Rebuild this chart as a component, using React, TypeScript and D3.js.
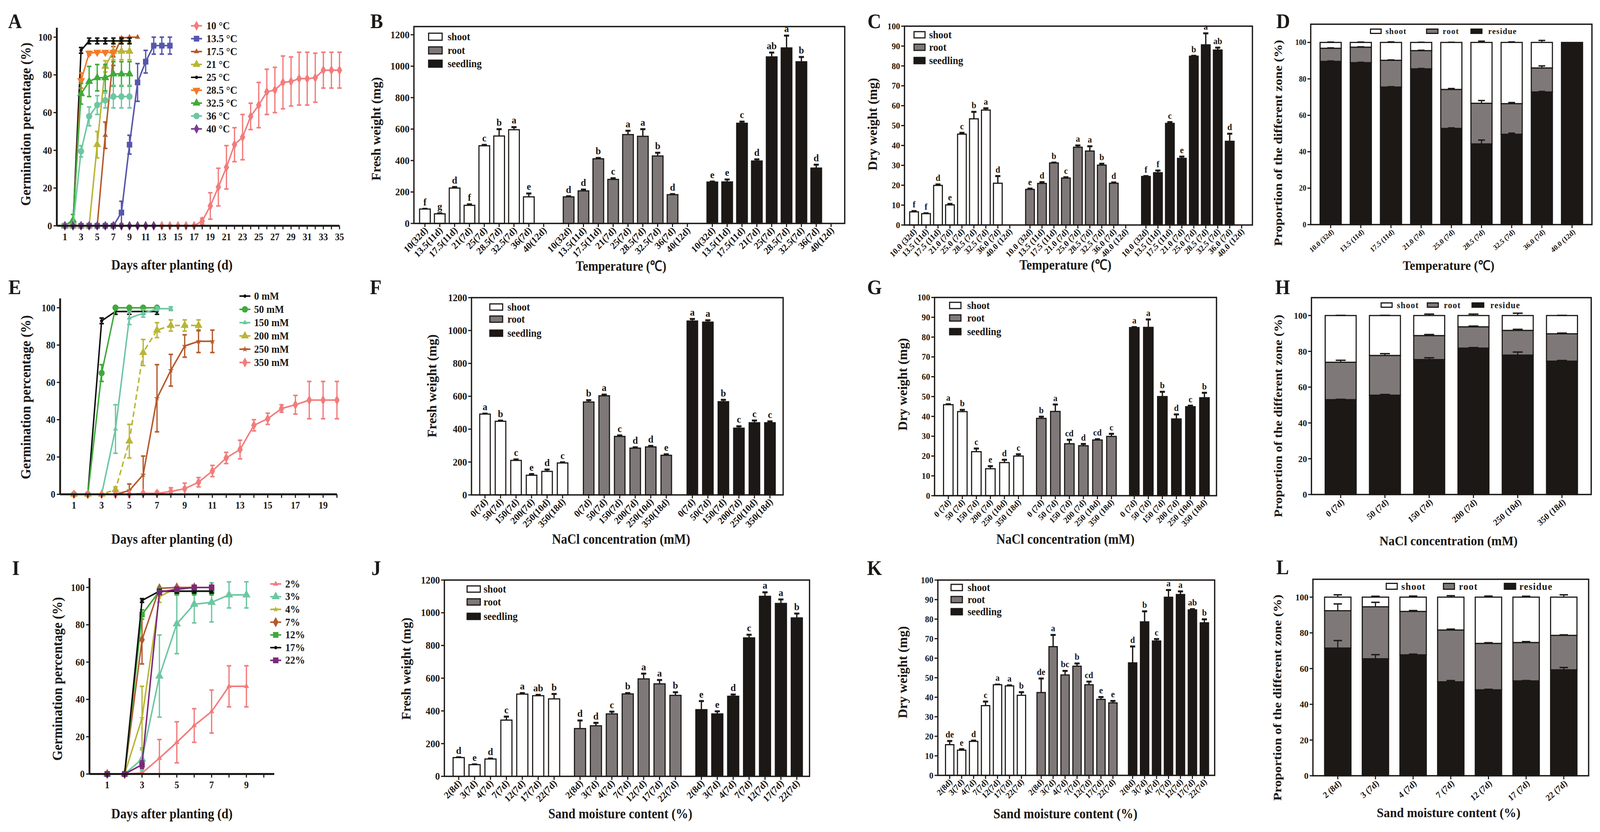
import React from 'react';
import * as d3 from 'd3';

const SERIF = '"Liberation Serif", "Times New Roman", serif';
const INK = '#1b1816';
const GREY = '#7f7878';

// ---------- A: germination under temperature (index = day - 1) ----------
const tempNames = ['10 °C', '13.5 °C', '17.5 °C', '21 °C', '25 °C', '28.5 °C', '32.5 °C', '36 °C', '40 °C'];
const germ10 = [0, 0, 0, 0, 0, 0, 0, 0, 0, 0, 0, 0, 0, 0, 0, 0, 0, 2.5, 10.5, 20.5, 31, 43, 47, 58, 64, 71, 72, 76, 76.5, 78, 78, 78.5, 82.5, 82.5, 82.5];
const err10 = [0, 0, 0, 0, 0, 0, 0, 0, 0, 0, 0, 0, 0, 0, 0, 0, 0, 1.5, 7, 10, 11.5, 9, 12, 7, 12, 12, 12, 14, 13, 14, 14, 13, 9.5, 9.5, 9.5];
const germ13_5 = [0, 0, 0, 0, 0, 0, 0, 7, 43, 76, 87, 95.5, 95.5, 95.5];
const err13_5 = [0, 0, 0, 0, 0, 0, 0, 6, 5, 10, 6, 4.5, 4.5, 4.5];
const germ17_5 = [0, 0, 0, 0, 0, 48, 90, 99.5, 100, 100];
const err17_5 = [0, 0, 0, 0, 0, 7, 5, 0.5, 0, 0];
const germ21 = [0, 0, 0, 0, 43, 84.5, 92.5, 92.5, 92.5];
const err21 = [0, 0, 0, 0, 7, 3, 4.5, 4.5, 4.5];
const germ25 = [0, 0, 93, 98, 98, 98, 98, 98, 98];
const err25 = [0, 0, 1.5, 1.5, 1.5, 1.5, 1.5, 1.5, 1.5];
const germ28_5 = [0, 0, 77, 91.5, 92, 92, 92];
const err28_5 = [0, 0, 4, 1, 0.5, 0.5, 0.5];
const germ32_5 = [0, 3, 70, 76.5, 78.5, 78.5, 80.5, 80.5, 80.5];
const err32_5 = [0, 3, 5.5, 8, 7, 7, 6.5, 6.5, 6.5];
const germ36 = [0, 0, 39.5, 58, 64, 66.5, 68.5, 68.5, 68.5];
const err36 = [0, 0, 3, 5, 5, 4, 6, 6, 6];
const germ40 = [0, 0, 0, 0, 0, 0, 0, 0, 0, 0, 0, 0];
const err40 = [0, 0, 0, 0, 0, 0, 0, 0, 0, 0, 0, 0];

// ---------- E: germination under NaCl ----------
const saltNames = ['0 mM', '50 mM', '150 mM', '200 mM', '250 mM', '350 mM'];
const salt0 = [0, 0, 93, 98, 98, 98, 98];
const salt0Err = [0, 0, 1.5, 1.5, 1.5, 1.5, 1.5];
const salt50 = [0, 0, 65, 100, 100, 100, 100];
const salt50Err = [0, 0, 4.5, 0, 0, 0, 0];
const salt150 = [0, 0, 0, 35, 94.5, 97, 99.5, 99.5];
const salt150Err = [0, 0, 0, 13, 3.5, 2, 1, 1];
const salt200 = [0, 0, 0, 2.5, 28.5, 76, 88, 90.5, 90.5, 90.5];
const salt200Err = [0, 0, 0, 1.5, 9, 7, 4, 3, 3, 3];
const salt250 = [0, 0, 0, 0, 2, 10.5, 51.5, 66.5, 79.5, 82, 82];
const salt250Err = [0, 0, 0, 0, 3.5, 10, 18, 8.5, 6, 6, 6];
const salt350 = [0, 0, 0, 0, 0, 0.5, 0.5, 1.5, 3, 6.5, 12.5, 19.5, 24, 37, 40.5, 46, 48, 50.5, 50.5, 50.5];
const salt350Err = [0, 0, 0, 0, 0, 0.5, 1, 2, 3, 2.5, 3, 3, 5, 3, 3, 2, 5, 10, 10, 10];

// ---------- I: germination under sand moisture ----------
const moistNames = ['2%', '3%', '4%', '7%', '12%', '17%', '22%'];
const moist2 = [0, 0, 0.5, 8.5, 17, 26, 33.5, 47, 47];
const moist2Err = [0, 0, 0.5, 10, 11, 9, 11.5, 11, 11];
const moist3 = [0, 0, 8, 52.5, 80.5, 91, 92, 96, 96];
const moist3Err = [0, 0, 6, 22, 16, 10, 10.5, 7, 7];
const moist4 = [0, 0, 30, 95, 100, 100, 100];
const moist4Err = [0, 0, 17, 3, 0, 0, 0];
const moist7 = [0, 0, 72, 99.5, 100, 100, 100];
const moist7Err = [0, 0, 13, 0.5, 0, 0, 0];
const moist12 = [0, 0, 85.5, 98, 98, 98, 98];
const moist12Err = [0, 0, 2.5, 2, 2, 2, 2];
const moist17 = [0, 0, 93, 98, 98, 98, 98];
const moist17Err = [0, 0, 1, 1, 1, 1, 1];
const moist22 = [0, 0, 5, 97.5, 99, 100, 100];
const moist22Err = [0, 0, 2, 1, 0.5, 0, 0];

// ---------- categories ----------
const tempFreshCats = ['10(32d)', '13.5(11d)', '17.5(11d)', '21(7d)', '25(7d)', '28.5(7d)', '32.5(7d)', '36(7d)', '40(12d)'];
const tempDryCats = ['10.0 (32d)', '13.5 (11d)', '17.5 (11d)', '21.0 (7d)', '25.0 (7d)', '28.5 (7d)', '32.5 (7d)', '36.0 (7d)', '40.0 (12d)'];
const saltFreshCats = ['0(7d)', '50(7d)', '150(7d)', '200(7d)', '250(10d)', '350(18d)'];
const saltDryCats = ['0 (7d)', '50 (7d)', '150 (7d)', '200 (7d)', '250 (10d)', '350 (18d)'];
const sandCats = ['2(8d)', '3(7d)', '4(7d)', '7(7d)', '12(7d)', '17(7d)', '22(7d)'];
const sandPropCats = ['2 (8d)', '3 (7d)', '4 (7d)', '7 (7d)', '12 (7d)', '17 (7d)', '22 (7d)'];
const partNames = ['shoot', 'root', 'seedling'];

// ---------- B: fresh weight, temperature ----------
const fwTempShoot = [91.5, 61, 225, 115, 494, 556, 596, 169, 0];
const fwTempShootErr = [4, 6, 9, 9, 8, 46, 19, 24, 0];
const fwTempShootSig = ['f', 'g', 'd', 'f', 'c', 'b', 'a', 'e', ''];
const fwTempRoot = [169, 207, 411, 280, 565, 554, 429, 183, 0];
const fwTempRootErr = [6, 11, 8, 10, 27, 48, 23, 6, 0];
const fwTempRootSig = ['d', 'd', 'b', 'c', 'a', 'a', 'b', 'd', ''];
const fwTempSeed = [263, 264, 637, 397, 1059, 1116, 1028, 352, 0];
const fwTempSeedErr = [6, 18, 13, 13, 30, 81, 33, 24, 0];
const fwTempSeedSig = ['e', 'e', 'c', 'd', 'ab', 'a', 'b', 'd', ''];

// ---------- C: dry weight, temperature ----------
const dwTempShoot = [6.6, 5.7, 19.9, 10.1, 45.7, 53.4, 57.8, 21.0, 0];
const dwTempShootErr = [0.6, 0.4, 0.7, 0.7, 0.85, 3.7, 1.1, 3.8, 0];
const dwTempShootSig = ['f', 'f', 'd', 'e', 'c', 'b', 'a', 'd', ''];
const dwTempRoot = [17.9, 20.9, 31.2, 23.6, 39.1, 37.2, 30.1, 21.0, 0];
const dwTempRootErr = [0.6, 0.85, 0.4, 0.6, 1.1, 2.6, 0.9, 0.6, 0];
const dwTempRootSig = ['e', 'd', 'b', 'c', 'a', 'a', 'b', 'd', ''];
const dwTempSeed = [24.4, 26.3, 51.1, 33.5, 84.9, 90.6, 88.0, 42.1, 0];
const dwTempSeedErr = [0.4, 1.3, 0.85, 1.1, 0.4, 6, 1.4, 4.0, 0];
const dwTempSeedSig = ['f', 'f', 'c', 'e', 'b', 'a', 'ab', 'd', ''];

// ---------- D: proportion, temperature ----------
const propTempResidue = [89.6, 88.9, 75.5, 85.5, 52.8, 44.3, 49.6, 72.8, 100];
const propTempRoot = [7.2, 8.5, 14.7, 10.0, 21.4, 22.3, 16.8, 13.2, 0];
const propTempShoot = [3.2, 2.6, 9.8, 4.5, 25.8, 33.4, 33.6, 14.0, 0];
const propTempResidueErr = [0.2, 0.2, 0.2, 0.2, 0.3, 2.1, 0.6, 0.3, 0];
const propTempRootErr = [0.2, 0.2, 0.2, 0.2, 0.5, 1.5, 0.6, 1.1, 0];
const propTempShootErr = [0.2, 0.2, 0.3, 0.1, 0.1, 0.7, 0.3, 1.1, 0];

// ---------- F: fresh weight, NaCl ----------
const fwSaltShoot = [491.7, 448, 209.8, 119.6, 143, 194.3];
const fwSaltShootErr = [5.3, 6.4, 8.5, 9.6, 13.8, 6.4];
const fwSaltShootSig = ['a', 'b', 'c', 'e', 'd', 'c'];
const fwSaltRoot = [565, 603, 355.8, 284.6, 292, 241];
const fwSaltRootErr = [13.8, 9.6, 8.5, 7.4, 8.5, 8.5];
const fwSaltRootSig = ['b', 'a', 'c', 'd', 'd', 'e'];
const fwSaltSeed = [1057.7, 1051, 567, 406, 439, 439];
const fwSaltSeedErr = [14.9, 13.8, 13.8, 13.8, 16, 10.6];
const fwSaltSeedSig = ['a', 'a', 'b', 'c', 'c', 'c'];

// ---------- G: dry weight, NaCl ----------
const dwSaltShoot = [45.9, 42.4, 22.2, 13.6, 16.7, 20.0];
const dwSaltShootErr = [0.44, 1.1, 1.8, 1.5, 1.6, 1.1];
const dwSaltShootSig = ['a', 'b', 'c', 'e', 'd', 'c'];
const dwSaltRoot = [39.0, 42.5, 26.2, 25.2, 28.1, 29.9];
const dwSaltRootErr = [1.05, 3.7, 2.2, 1.1, 0.6, 1.5];
const dwSaltRootSig = ['b', 'a', 'cd', 'd', 'cd', 'c'];
const dwSaltSeed = [84.8, 84.9, 50.0, 38.7, 44.9, 49.4];
const dwSaltSeedErr = [0.44, 4.2, 2.6, 2.5, 0.7, 2.7];
const dwSaltSeedSig = ['a', 'a', 'b', 'd', 'c', 'b'];

// ---------- H: proportion, NaCl ----------
const propSaltResidue = [53.0, 55.5, 75.4, 81.8, 77.9, 74.5];
const propSaltRoot = [20.9, 22.2, 13.4, 11.9, 13.8, 15.3];
const propSaltShoot = [26.1, 22.3, 11.2, 6.3, 8.3, 10.2];
const propSaltResidueErr = [0.2, 0.4, 1.0, 0.3, 1.7, 0.4];
const propSaltRootErr = [1.1, 1.0, 0.6, 0.4, 0.6, 0.4];
const propSaltShootErr = [0.1, 0.1, 0.8, 0.8, 1.3, 0.1];

// ---------- J: fresh weight, sand moisture ----------
const fwSandShoot = [114.6, 71.4, 106, 343.8, 502.7, 493, 473.5];
const fwSandShootErr = [4.3, 4.3, 5.4, 23.8, 8.6, 7.6, 32.4];
const fwSandShootSig = ['d', 'e', 'd', 'c', 'a', 'ab', 'b'];
const fwSandRoot = [292, 309, 381.6, 503.8, 595.7, 565.4, 495];
const fwSandRootErr = [51.9, 20.5, 16.2, 7.6, 34.6, 26, 21.6];
const fwSandRootSig = ['d', 'd', 'c', 'b', 'a', 'a', 'b'];
const fwSandSeed = [407.6, 381.6, 489.7, 846.5, 1100.5, 1057, 968.6];
const fwSandSeedErr = [55, 18.4, 13, 21.6, 27, 27, 29];
const fwSandSeedSig = ['e', 'e', 'd', 'c', 'a', 'a', 'b'];

// ---------- K: dry weight, sand moisture ----------
const dwSandShoot = [15.7, 12.9, 17.4, 35.7, 46.4, 45.8, 41.0];
const dwSandShootErr = [2.1, 0.7, 0.6, 2.3, 0.3, 0.5, 1.8];
const dwSandShootSig = ['de', 'e', 'd', 'c', 'a', 'a', 'b'];
const dwSandRoot = [42.4, 65.9, 51.4, 55.9, 46.4, 38.9, 37.1];
const dwSandRootErr = [7.4, 6.2, 2.3, 1.6, 1.8, 1.4, 1.2];
const dwSandRootSig = ['de', 'a', 'bc', 'b', 'cd', 'e', 'e'];
const dwSandSeed = [57.6, 78.6, 68.8, 91.2, 92.6, 84.7, 78.1];
const dwSandSeedErr = [8.6, 5.6, 1.2, 3.9, 1.8, 0.6, 2.0];
const dwSandSeedSig = ['d', 'b', 'c', 'a', 'a', 'ab', 'b'];

// ---------- L: proportion, sand moisture ----------
const propSandResidue = [71.5, 65.5, 67.7, 52.6, 48.1, 53.1, 59.3];
const propSandRoot = [20.9, 29.1, 24.3, 29.0, 26.0, 21.5, 19.3];
const propSandShoot = [7.6, 5.4, 8.0, 18.4, 25.9, 25.4, 21.4];
const propSandResidueErr = [4.2, 2.3, 0.4, 0.7, 0.3, 0.2, 1.3];
const propSandRootErr = [3.8, 2.5, 0.5, 0.5, 0.4, 0.5, 0.3];
const propSandShootErr = [1.3, 0.5, 0.6, 0.8, 0.6, 0.5, 1.3];

const C_PINK = '#f27c7c';
const C_BLUE = '#5656ad';
const C_BROWN = '#b45a2c';
const C_OLIVE = '#b9b536';
const C_BLACK = '#111111';
const C_ORANGE = '#f47a2a';
const C_GREEN = '#3faa3a';
const C_TEAL = '#6cc7a2';
const C_PURPLE = '#7a3c94';

const W = 4364;
const H = 2130;

const symbolTypes: Record<string, any> = {
  circle: d3.symbolCircle,
  square: d3.symbolSquare,
  diamond: d3.symbolDiamond,
  triangle: d3.symbolTriangle,
  triDown: d3.symbolTriangle,
  star: d3.symbolStar,
};

function Marker({ shape, size, color, x, y }: any) {
  const d = d3.symbol().type(symbolTypes[shape]).size(size)() as string;
  const rot = shape === 'triDown' ? ' rotate(180)' : '';
  return <path d={d} fill={color} transform={`translate(${x},${y})${rot}`} />;
}

function Letter({ t, x, y }: any) {
  return <text x={x} y={y} fontSize={52} fill={INK}>{t}</text>;
}

function XTitle({ t, cx, y, len, size }: any) {
  return (
    <text x={cx} y={y} fontSize={size} textAnchor="middle" textLength={len} lengthAdjust="spacingAndGlyphs" fill={INK}>{t}</text>
  );
}

function YTitle({ t, x, cy, len, size }: any) {
  return (
    <text transform={`translate(${x},${cy}) rotate(-90)`} fontSize={size} textAnchor="middle" dominantBaseline="central"
      textLength={len} lengthAdjust="spacingAndGlyphs" fill={INK}>{t}</text>
  );
}

// ---------- line (germination) panel ----------
function LinePanel({ p, series }: any) {
  const x = d3.scaleLinear().domain(p.xDomain).range(p.xRange);
  const y = d3.scaleLinear().domain([0, 105]).range(p.yRange);
  const line = d3.line<number>().x((_, i) => x(i + 1)).y(v => y(v));
  const xTicks = d3.range(1, p.lastTick + 1);
  const yTicks = d3.range(0, 101, 20);
  const y0 = y(0);
  return (
    <g>
      <Letter t={p.letter} x={p.lx} y={p.ly} />
      {series.map((s: any) => (
        <g key={s.name}>
          <path d={line(s.vals) as string} fill="none" stroke={s.color} strokeWidth={4} strokeDasharray={s.dash} />
          {s.vals.map((v: number, i: number) => {
            const e = s.errs[i];
            if (!(e > 0)) return null;
            const cx = x(i + 1);
            const lo = y(Math.max(0, v - e));
            const hi = y(v + e);
            return (
              <g key={i} stroke={s.color}>
                <line x1={cx} x2={cx} y1={lo} y2={hi} strokeWidth={3.5} />
                <line x1={cx - 6} x2={cx + 6} y1={hi} y2={hi} strokeWidth={4} />
                <line x1={cx - 6} x2={cx + 6} y1={lo} y2={lo} strokeWidth={4} />
              </g>
            );
          })}
          {s.vals.map((v: number, i: number) => (
            <Marker key={`m${i}`} shape={s.shape} size={s.size} color={s.color} x={x(i + 1)} y={y(v)} />
          ))}
        </g>
      ))}
      {/* axes */}
      <line x1={p.axisX} x2={p.axisX} y1={y0} y2={p.yRange[1]} stroke={INK} strokeWidth={5} />
      <line x1={p.axisX} x2={x(p.xDomain[1])} y1={y0} y2={y0} stroke={INK} strokeWidth={5} />
      {yTicks.map(t => (
        <g key={`y${t}`}>
          <line x1={p.axisX - 9} x2={p.axisX} y1={y(t)} y2={y(t)} stroke={INK} strokeWidth={3} />
          <text x={p.axisX - 13} y={y(t)} fontSize={25} textAnchor="end" dominantBaseline="central" fill={INK}>{t}</text>
        </g>
      ))}
      {xTicks.map(t => (
        <g key={`x${t}`}>
          <line x1={x(t)} x2={x(t)} y1={y0} y2={y0 + 9} stroke={INK} strokeWidth={3} />
          {t % 2 === 1 && (
            <text x={x(t)} y={p.xLabelY} fontSize={25} textAnchor="middle" fill={INK}>{t}</text>
          )}
        </g>
      ))}
      {series.map((s: any, i: number) => {
        const ly = p.legend.y0 + i * p.legend.dy;
        return (
          <g key={`lg${s.name}`}>
            <line x1={p.legend.x1} x2={p.legend.x2} y1={ly} y2={ly} stroke={s.color} strokeWidth={4} />
            <Marker shape={s.shape} size={s.size} color={s.color} x={(p.legend.x1 + p.legend.x2) / 2} y={ly} />
            <text x={p.legend.tx} y={ly} fontSize={27} dominantBaseline="central" fill={INK}>{s.name}</text>
          </g>
        );
      })}
      <XTitle t="Days after planting (d)" cx={p.xTitle.cx} y={p.xTitle.y} len={p.xTitle.len} size={36} />
      <YTitle t="Germination percentage (%)" x={p.yTitle.x} cy={p.yTitle.cy} len={p.yTitle.len} size={38} />
    </g>
  );
}

// ---------- grouped bar (weight) panel ----------
function BarPanel({ c, cats, groups }: any) {
  const n = cats.length;
  const x = d3.scaleLinear().domain([-c.mL, 2 * c.off + n - 1 + c.mR]).range([c.x0, c.x1]);
  const step = x(1) - x(0);
  const bw = step * c.barFrac;
  const y = d3.scaleLinear().domain([0, c.yMax]).range([c.y0, c.yTop]);
  return (
    <g>
      <Letter t={c.letter} x={c.lx} y={c.ly} />
      {groups.map((g: any, gi: number) => g.vals.map((v: number, i: number) => {
        if (v <= 0) return null;
        const cx = x(gi * c.off + i);
        const top = y(v + g.errs[i]);
        return (
          <g key={`${gi}-${i}`}>
            <line x1={cx} x2={cx} y1={y(v)} y2={top} stroke={INK} strokeWidth={3.5} />
            <line x1={cx - 7} x2={cx + 7} y1={top + 1} y2={top + 1} stroke={INK} strokeWidth={5} />
            <rect x={cx - bw / 2} y={y(v)} width={bw} height={c.y0 - y(v)} fill={g.fill} stroke={INK} strokeWidth={3} />
            <text x={cx} y={top - 8} fontSize={c.sigFont} textAnchor="middle" fill={INK}>{g.sigs[i]}</text>
          </g>
        );
      }))}
      <rect x={c.x0} y={c.yTop} width={c.x1 - c.x0} height={c.y0 - c.yTop} fill="none" stroke={INK} strokeWidth={3.5} />
      {c.yTicks.map((t: number) => (
        <g key={`y${t}`}>
          <line x1={c.x0 - 9} x2={c.x0} y1={y(t)} y2={y(t)} stroke={INK} strokeWidth={3} />
          <text x={c.x0 - 12} y={y(t)} fontSize={c.tickFont} textAnchor="end" dominantBaseline="central" fill={INK}>{t}</text>
        </g>
      ))}
      {groups.map((g: any, gi: number) => cats.map((cat: string, i: number) => {
        const cx = x(gi * c.off + i);
        return (
          <g key={`x${gi}-${i}`}>
            <line x1={cx} x2={cx} y1={c.y0} y2={c.y0 + 9} stroke={INK} strokeWidth={3} />
            <text transform={`translate(${cx + 3},${c.y0 + 13}) rotate(-45)`} fontSize={c.catFont} textAnchor="end"
              dominantBaseline="central" fill={INK}>{cat}</text>
          </g>
        );
      }))}
      {groups.map((g: any, k: number) => (
        <g key={`lg${k}`}>
          <rect x={c.legend.bx} y={c.legend.ys[k] - c.legend.bh / 2} width={c.legend.bw} height={c.legend.bh}
            fill={g.fill} stroke={INK} strokeWidth={3} />
          <text x={c.legend.tx} y={c.legend.ys[k]} fontSize={27} dominantBaseline="central" fill={INK}>{g.name}</text>
        </g>
      ))}
      <XTitle t={c.xTitle.t} cx={c.xTitle.cx} y={c.xTitle.y} len={c.xTitle.len} size={36} />
      <YTitle t={c.yTitle.t} x={c.yTitle.x} cy={c.yTitle.cy} len={c.yTitle.len} size={36} />
    </g>
  );
}

// ---------- stacked proportion panel ----------
function StackPanel({ c, cats, residue, root, shoot, errs }: any) {
  const x = d3.scaleBand().domain(cats).range([c.x0, c.x1]).paddingInner(0.3).paddingOuter(0.31);
  const y = d3.scaleLinear().domain([0, 110]).range([c.y0, c.yTop]);
  const rows = cats.map((cat: string, i: number) => ({ cat, residue: residue[i], root: root[i], shoot: shoot[i] }));
  const keys = ['residue', 'root', 'shoot'];
  const fills: Record<string, string> = { residue: INK, root: GREY, shoot: '#ffffff' };
  const layers = d3.stack<any>().keys(keys)(rows);
  const bw = x.bandwidth();
  const capW = bw * 0.32;
  const legendKeys = ['shoot', 'root', 'residue'];
  return (
    <g>
      <Letter t={c.letter} x={c.lx} y={c.ly} />
      {layers.map((layer: any, li: number) => layer.map((seg: any, i: number) => {
        const v = seg[1] - seg[0];
        if (v <= 0) return null;
        const bx = x(cats[i]) as number;
        return (
          <rect key={`${li}-${i}`} x={bx} y={y(seg[1])} width={bw} height={y(seg[0]) - y(seg[1])}
            fill={fills[keys[li]]} stroke={INK} strokeWidth={3} />
        );
      }))}
      {layers.map((layer: any, li: number) => layer.map((seg: any, i: number) => {
        const e = errs[li][i];
        if (!(e > 0) || seg[1] - seg[0] <= 0) return null;
        const cx = (x(cats[i]) as number) + bw / 2;
        const top = y(seg[1] + e);
        return (
          <g key={`e${li}-${i}`} stroke={INK}>
            <line x1={cx} x2={cx} y1={y(seg[1])} y2={top} strokeWidth={3} />
            <line x1={cx - capW / 2} x2={cx + capW / 2} y1={top} y2={top} strokeWidth={3.5} />
          </g>
        );
      }))}
      <rect x={c.x0} y={c.yTop} width={c.x1 - c.x0} height={c.y0 - c.yTop} fill="none" stroke={INK} strokeWidth={3.5} />
      {d3.range(0, 101, 20).map(t => (
        <g key={`y${t}`}>
          <line x1={c.x0 - 9} x2={c.x0} y1={y(t)} y2={y(t)} stroke={INK} strokeWidth={3} />
          <text x={c.x0 - 12} y={y(t)} fontSize={c.tickFont} textAnchor="end" dominantBaseline="central" fill={INK}>{t}</text>
        </g>
      ))}
      {cats.map((cat: string) => {
        const cx = (x(cat) as number) + bw / 2;
        return (
          <g key={`x${cat}`}>
            <line x1={cx} x2={cx} y1={c.y0} y2={c.y0 + 9} stroke={INK} strokeWidth={3} />
            <text transform={`translate(${cx + 6},${c.y0 + 16}) rotate(-40)`} fontSize={c.catFont} textAnchor="end"
              dominantBaseline="central" fill={INK}>{cat}</text>
          </g>
        );
      })}
      {legendKeys.map((k, i) => (
        <g key={`lg${k}`}>
          <rect x={c.legend.bx[i]} y={c.legend.y - c.legend.bh / 2} width={c.legend.bw[i]} height={c.legend.bh}
            fill={fills[k]} stroke={INK} strokeWidth={3} />
          <text x={c.legend.tx[i]} y={c.legend.y} fontSize={c.legend.font} letterSpacing={1.5} dominantBaseline="central" fill={INK}>{k}</text>
        </g>
      ))}
      <XTitle t={c.xTitle.t} cx={c.xTitle.cx} y={c.xTitle.y} len={c.xTitle.len} size={34} />
      <YTitle t="Proportion of the different zone (%)" x={c.yTitle.x} cy={c.yTitle.cy} len={c.yTitle.len} size={32} />
    </g>
  );
}

const tempSeries = [
  { name: tempNames[0], color: C_PINK, shape: 'diamond', size: 190, vals: germ10, errs: err10 },
  { name: tempNames[1], color: C_BLUE, shape: 'square', size: 220, vals: germ13_5, errs: err13_5 },
  { name: tempNames[2], color: C_BROWN, shape: 'triangle', size: 90, vals: germ17_5, errs: err17_5 },
  { name: tempNames[3], color: C_OLIVE, shape: 'triangle', size: 200, vals: germ21, errs: err21 },
  { name: tempNames[4], color: C_BLACK, shape: 'circle', size: 60, vals: germ25, errs: err25 },
  { name: tempNames[5], color: C_ORANGE, shape: 'triDown', size: 200, vals: germ28_5, errs: err28_5 },
  { name: tempNames[6], color: C_GREEN, shape: 'triangle', size: 200, vals: germ32_5, errs: err32_5 },
  { name: tempNames[7], color: C_TEAL, shape: 'circle', size: 220, vals: germ36, errs: err36 },
  { name: tempNames[8], color: C_PURPLE, shape: 'diamond', size: 180, vals: germ40, errs: err40 },
];

const saltSeries = [
  { name: saltNames[0], color: C_BLACK, shape: 'circle', size: 60, vals: salt0, errs: salt0Err },
  { name: saltNames[1], color: C_GREEN, shape: 'circle', size: 220, vals: salt50, errs: salt50Err },
  { name: saltNames[2], color: C_TEAL, shape: 'triangle', size: 80, vals: salt150, errs: salt150Err },
  { name: saltNames[3], color: C_OLIVE, shape: 'triangle', size: 200, vals: salt200, errs: salt200Err, dash: '14 8' },
  { name: saltNames[4], color: C_BROWN, shape: 'star', size: 80, vals: salt250, errs: salt250Err },
  { name: saltNames[5], color: C_PINK, shape: 'diamond', size: 190, vals: salt350, errs: salt350Err },
];

const moistSeries = [
  { name: moistNames[0], color: C_PINK, shape: 'triangle', size: 90, vals: moist2, errs: moist2Err },
  { name: moistNames[1], color: C_TEAL, shape: 'triangle', size: 220, vals: moist3, errs: moist3Err },
  { name: moistNames[2], color: C_OLIVE, shape: 'star', size: 80, vals: moist4, errs: moist4Err },
  { name: moistNames[3], color: C_BROWN, shape: 'diamond', size: 200, vals: moist7, errs: moist7Err },
  { name: moistNames[4], color: C_GREEN, shape: 'square', size: 220, vals: moist12, errs: moist12Err },
  { name: moistNames[5], color: C_BLACK, shape: 'circle', size: 60, vals: moist17, errs: moist17Err },
  { name: moistNames[6], color: '#7b2a7a', shape: 'square', size: 220, vals: moist22, errs: moist22Err },
];

const mkGroups = (v: number[][], e: number[][], s: string[][]) => [
  { name: partNames[0], fill: '#ffffff', vals: v[0], errs: e[0], sigs: s[0] },
  { name: partNames[1], fill: GREY, vals: v[1], errs: e[1], sigs: s[1] },
  { name: partNames[2], fill: INK, vals: v[2], errs: e[2], sigs: s[2] },
];

const fwTicks = d3.range(0, 1201, 200);
const dwTicks = d3.range(0, 101, 10);

export default function App() {
  return (
    <svg viewBox={`0 0 ${W} ${H}`} preserveAspectRatio="none" fontFamily={SERIF} fontWeight="bold"
      style={{ position: 'fixed', left: 0, top: 0, width: '100vw', height: '100vh', display: 'block', background: '#fff' }}>
      <rect width={W} height={H} fill="#fff" />

      <LinePanel series={tempSeries} p={{
        letter: 'A', lx: 22, ly: 72, axisX: 155, xDomain: [0, 35], xRange: [155, 926], yRange: [578, 71],
        lastTick: 35, xLabelY: 615, legend: { x1: 521, x2: 551, tx: 563, y0: 66, dy: 33 },
        xTitle: { cx: 469, y: 690, len: 331 }, yTitle: { x: 70, cy: 318, len: 418 },
      }} />
      <LinePanel series={saltSeries} p={{
        letter: 'E', lx: 23, ly: 753, axisX: 164, xDomain: [0, 20], xRange: [164, 919], yRange: [1265.5, 764],
        lastTick: 20, xLabelY: 1302, legend: { x1: 653, x2: 683, tx: 693, y0: 758, dy: 34 },
        xTitle: { cx: 469, y: 1392, len: 331 }, yTitle: { x: 70, cy: 1017, len: 420 },
      }} />
      <LinePanel series={moistSeries} p={{
        letter: 'I', lx: 33, ly: 1472, axisX: 244, xDomain: [0, 10.6], xRange: [245, 748], yRange: [1981.6, 1480],
        lastTick: 10, xLabelY: 2018, legend: { x1: 737, x2: 767, tx: 778, y0: 1495, dy: 32.6 },
        xTitle: { cx: 469, y: 2095, len: 331 }, yTitle: { x: 157, cy: 1738, len: 419 },
      }} />

      <BarPanel cats={tempFreshCats}
        groups={mkGroups([fwTempShoot, fwTempRoot, fwTempSeed], [fwTempShootErr, fwTempRootErr, fwTempSeedErr], [fwTempShootSig, fwTempRootSig, fwTempSeedSig])}
        c={{
          letter: 'B', lx: 1010, ly: 72, x0: 1129, x1: 2304, yTop: 68, y0: 572, yMax: 1252, yTicks: fwTicks,
          off: 9.68, mL: 0.74, mR: 0.92, barFrac: 0.72, tickFont: 26, catFont: 25, sigFont: 26,
          legend: { bx: 1169, bw: 37, bh: 18, tx: 1221, ys: [94, 129, 163] },
          xTitle: { t: 'Temperature (℃)', cx: 1694, y: 693, len: 247 },
          yTitle: { t: 'Fresh weight (mg)', x: 1026, cy: 330, len: 265 },
        }} />
      <BarPanel cats={tempDryCats}
        groups={mkGroups([dwTempShoot, dwTempRoot, dwTempSeed], [dwTempShootErr, dwTempRootErr, dwTempSeedErr], [dwTempShootSig, dwTempRootSig, dwTempSeedSig])}
        c={{
          letter: 'C', lx: 2366, ly: 72, x0: 2467, x1: 3416, yTop: 67, y0: 576, yMax: 100, yTicks: dwTicks,
          off: 9.69, mL: 0.8, mR: 0.9, barFrac: 0.73, tickFont: 23, catFont: 22, sigFont: 23,
          legend: { bx: 2493, bw: 30, bh: 16, tx: 2534, ys: [89, 121, 155] },
          xTitle: { t: 'Temperature (℃)', cx: 2906, y: 690, len: 251 },
          yTitle: { t: 'Dry weight (mg)', x: 2380, cy: 318, len: 237 },
        }} />
      <StackPanel cats={tempDryCats} residue={propTempResidue} root={propTempRoot} shoot={propTempShoot}
        errs={[propTempResidueErr, propTempRootErr, propTempShootErr]}
        c={{
          letter: 'D', lx: 3481, ly: 72, x0: 3575, x1: 4342, yTop: 62, y0: 575, tickFont: 20, catFont: 19,
          legend: { bx: [3738, 3891, 4012], bw: [29, 31, 30], bh: 11, tx: [3779, 3935, 4059], y: 80, font: 22 },
          xTitle: { t: 'Temperature (℃)', cx: 3951, y: 691, len: 250 },
          yTitle: { x: 3486, cy: 366, len: 528 },
        }} />

      <BarPanel cats={saltFreshCats}
        groups={mkGroups([fwSaltShoot, fwSaltRoot, fwSaltSeed], [fwSaltShootErr, fwSaltRootErr, fwSaltSeedErr], [fwSaltShootSig, fwSaltRootSig, fwSaltSeedSig])}
        c={{
          letter: 'F', lx: 1009, ly: 753, x0: 1286, x1: 2136, yTop: 762, y0: 1267, yMax: 1200, yTicks: fwTicks,
          off: 6.68, mL: 0.87, mR: 0.85, barFrac: 0.68, tickFont: 26, catFont: 25, sigFont: 26,
          legend: { bx: 1336, bw: 35, bh: 16, tx: 1384, ys: [786, 817, 853] },
          xTitle: { t: 'NaCl concentration (mM)', cx: 1694, y: 1392, len: 377 },
          yTitle: { t: 'Fresh weight (mg)', x: 1178, cy: 988, len: 264 },
        }} />
      <BarPanel cats={saltDryCats}
        groups={mkGroups([dwSaltShoot, dwSaltRoot, dwSaltSeed], [dwSaltShootErr, dwSaltRootErr, dwSaltSeedErr], [dwSaltShootSig, dwSaltRootSig, dwSaltSeedSig])}
        c={{
          letter: 'G', lx: 2365, ly: 753, x0: 2549, x1: 3318, yTop: 761.5, y0: 1269, yMax: 100, yTicks: dwTicks,
          off: 6.63, mL: 0.98, mR: 0.86, barFrac: 0.68, tickFont: 23, catFont: 22, sigFont: 23,
          legend: { bx: 2590, bw: 31, bh: 16, tx: 2638, ys: [782, 814, 849] },
          xTitle: { t: 'NaCl concentration (mM)', cx: 2906, y: 1392, len: 377 },
          yTitle: { t: 'Dry weight (mg)', x: 2462, cy: 984, len: 237 },
        }} />
      <StackPanel cats={saltDryCats} residue={propSaltResidue} root={propSaltRoot} shoot={propSaltShoot}
        errs={[propSaltResidueErr, propSaltRootErr, propSaltShootErr]}
        c={{
          letter: 'H', lx: 3478, ly: 753, x0: 3577, x1: 4340, yTop: 762, y0: 1266, tickFont: 24, catFont: 23,
          legend: { bx: [3767, 3893, 4015], bw: [30, 30, 32], bh: 11, tx: [3810, 3938, 4065], y: 781, font: 23 },
          xTitle: { t: 'NaCl concentration (mM)', cx: 3951, y: 1396, len: 377 },
          yTitle: { x: 3486, cy: 1065, len: 519 },
        }} />

      <BarPanel cats={sandCats}
        groups={mkGroups([fwSandShoot, fwSandRoot, fwSandSeed], [fwSandShootErr, fwSandRootErr, fwSandSeedErr], [fwSandShootSig, fwSandRootSig, fwSandSeedSig])}
        c={{
          letter: 'J', lx: 1013, ly: 1472, x0: 1212, x1: 2208, yTop: 1485, y0: 1987.5, yMax: 1200, yTicks: fwTicks,
          off: 7.63, mL: 0.9, mR: 0.8, barFrac: 0.7, tickFont: 26, catFont: 25, sigFont: 26,
          legend: { bx: 1274, bw: 36, bh: 16, tx: 1319, ys: [1508, 1541, 1578] },
          xTitle: { t: 'Sand moisture content (%)', cx: 1692, y: 2095, len: 393 },
          yTitle: { t: 'Fresh weight (mg)', x: 1108, cy: 1712, len: 262 },
        }} />
      <BarPanel cats={sandCats}
        groups={mkGroups([dwSandShoot, dwSandRoot, dwSandSeed], [dwSandShootErr, dwSandRootErr, dwSandSeedErr], [dwSandShootSig, dwSandRootSig, dwSandSeedSig])}
        c={{
          letter: 'K', lx: 2365, ly: 1472, x0: 2558, x1: 3313, yTop: 1485, y0: 1985, yMax: 100, yTicks: dwTicks,
          off: 7.65, mL: 0.99, mR: 0.86, barFrac: 0.7, tickFont: 23, catFont: 22, sigFont: 23,
          legend: { bx: 2594, bw: 31, bh: 16, tx: 2639, ys: [1504, 1535, 1566] },
          xTitle: { t: 'Sand moisture content (%)', cx: 2906, y: 2095, len: 393 },
          yTitle: { t: 'Dry weight (mg)', x: 2462, cy: 1721, len: 236 },
        }} />
      <StackPanel cats={sandPropCats} residue={propSandResidue} root={propSandRoot} shoot={propSandShoot}
        errs={[propSandResidueErr, propSandRootErr, propSandShootErr]}
        c={{
          letter: 'L', lx: 3481, ly: 1470, x0: 3581, x1: 4333, yTop: 1483, y0: 1986, tickFont: 24, catFont: 23,
          legend: { bx: [3781, 3937, 4103], bw: [30, 30, 31], bh: 15, tx: [3822, 3979, 4144], y: 1501, font: 26 },
          xTitle: { t: 'Sand moisture content (%)', cx: 3951, y: 2092, len: 392 },
          yTitle: { x: 3484, cy: 1786, len: 528 },
        }} />
    </svg>
  );
}
